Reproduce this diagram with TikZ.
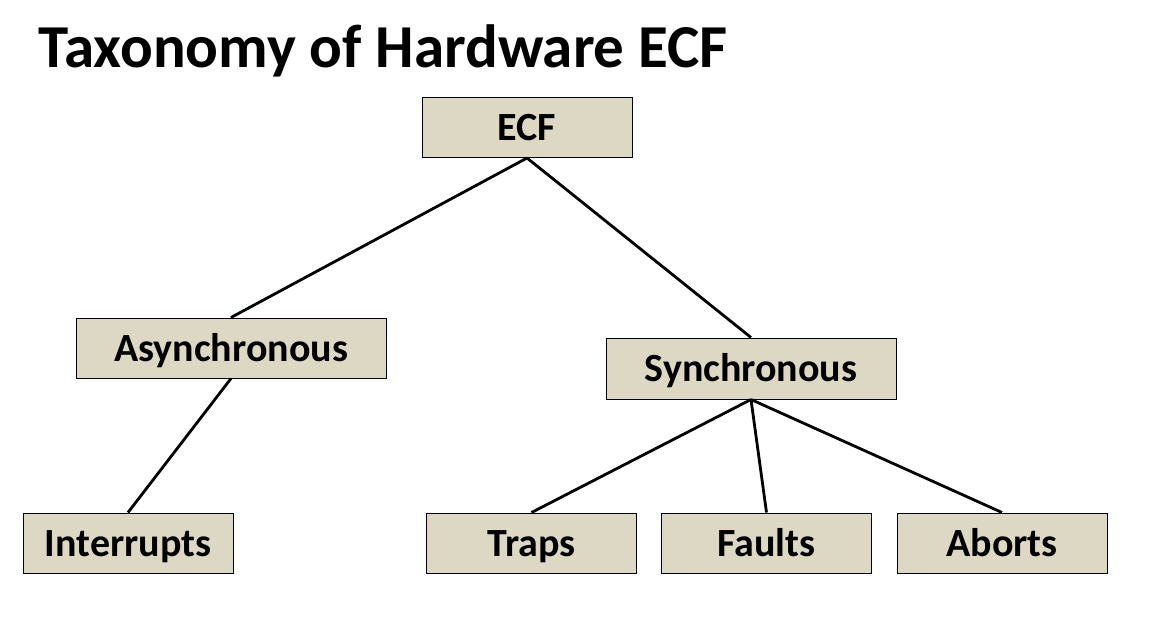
\documentclass[tikz,border=0pt]{standalone}
\usepackage{fontspec}
\setmainfont{Carlito}
\usepackage{tikz}
\definecolor{tanbox}{HTML}{DDD8C4}

\begin{document}
\begin{tikzpicture}[
  x=1pt,y=-1pt,
  font=\fontsize{40}{48}\selectfont\bfseries,
  box/.style={draw,line width=1pt,fill=tanbox,align=center,minimum width=210pt,minimum height=60pt,inner sep=0pt,text height=26pt,text depth=0pt},
  link/.style={line width=2.8pt}
]
\useasboundingbox (0,0) rectangle (1149,627);
\node[anchor=base west,font=\fontsize{61}{72}\selectfont\bfseries] (title) at (35,67) {Taxonomy of Hardware ECF};
\node[box] (ecf) at (527,127.5) {ECF};
\node[box,minimum width=310pt] (async) at (231,348) {Asynchronous};
\node[box,minimum width=290pt,minimum height=61pt] (sync) at (751,368.5) {Synchronous};
\node[box] (intr) at (128,543) {Interrupts};
\node[box] (traps) at (531.5,543) {Traps};
\node[box] (faults) at (766.5,543) {Faults};
\node[box] (aborts) at (1002,543) {Aborts};
\draw[link] (ecf.south) -- (async.north);
\draw[link] (ecf.south) -- (sync.north);
\draw[link] (async.south) -- (intr.north);
\draw[link] (sync.south) -- (traps.north);
\draw[link] (sync.south) -- (faults.north);
\draw[link] (sync.south) -- (aborts.north);
\end{tikzpicture}
\end{document}
